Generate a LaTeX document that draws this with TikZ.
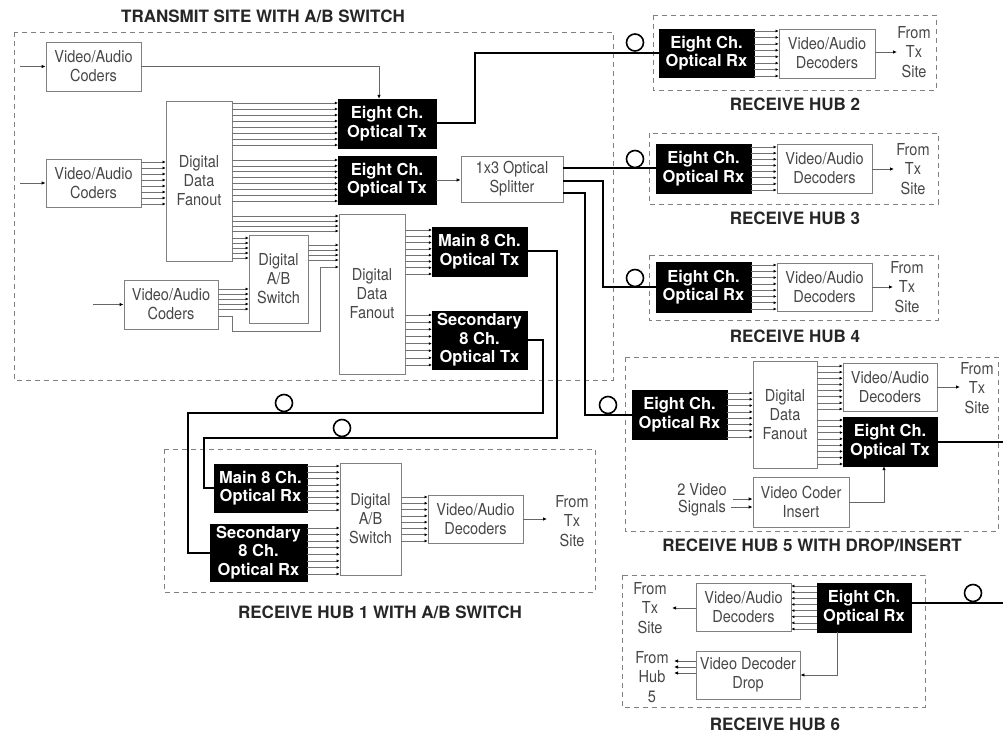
\documentclass[tikz,border=0pt]{standalone}
\usepackage{fontspec}
\setmainfont{TeX Gyre Heros}[FakeStretch=0.88]
\newfontfamily\boldf{TeX Gyre Heros}[FakeStretch=1.0]
\usetikzlibrary{arrows.meta,calc}
\definecolor{txtgray}{gray}{0.28}
\newcommand\blk[7]{\node[#1, minimum width={(#5)-(#3)}, minimum height={(#6)-(#4)}] (#2) at ({((#3)+(#5))/2},{((#4)+(#6))/2}) {#7};}
\newcommand\bundle[5]{\foreach \k in {0,...,#3}{\pgfmathsetmacro\yy{#4+(#5-#4)*\k/#3}\draw[bus] (#1 |- 0,\yy) -- (#2 |- 0,\yy);}}
\begin{document}
\begin{tikzpicture}[x=1pt,y=-1pt,
 gbox/.style={draw=black!50, line width=0.8pt, text=txtgray, align=center, inner sep=0pt, font=\fontsize{16.5}{19}\selectfont},
 bbox/.style={fill=black, draw=black, text=white, align=center, inner sep=0pt, font=\boldf\bfseries\fontsize{16.5}{18.5}\selectfont},
 site/.style={draw=black!50, dash pattern=on 5pt off 4pt, line width=0.8pt},
 ttl/.style={font=\boldf\bfseries\fontsize{17}{19}\selectfont, text=black!85, inner sep=0pt},
 lbl/.style={text=txtgray, align=center, inner sep=0pt, font=\fontsize{16.5}{19.5}\selectfont},
 bus/.style={draw=black!55, line width=0.6pt, -{Latex[length=3pt,width=3pt,black]}},
 sig/.style={draw=black!60, line width=0.8pt, -{Latex[length=4pt,width=3.5pt,black]}},
 fiber/.style={draw=black, line width=2pt},
 loopc/.style={draw=black, line width=1.6pt, circle, minimum size=17pt, inner sep=0pt}]
\useasboundingbox (0,0) rectangle (1003,735);

% ---------------- site frames and titles
\draw[site] (14,32) rectangle (613,380);
\node[ttl] (tTx) at (263,16) {TRANSMIT SITE WITH A/B SWITCH};
\draw[site] (653,15) rectangle (936,90);
\node[ttl] (tH2) at (795,104) {RECEIVE HUB 2};
\draw[site] (649,133) rectangle (938,204);
\node[ttl] (tH3) at (795,218) {RECEIVE HUB 3};
\draw[site] (649,255) rectangle (938,320);
\node[ttl] (tH4) at (795,336) {RECEIVE HUB 4};
\draw[site] (625,357) rectangle (998,531);
\node[ttl] (tH5) at (812,545) {RECEIVE HUB 5 WITH DROP/INSERT};
\draw[site] (164,449) rectangle (595,592);
\node[ttl] (tH1) at (380,612) {RECEIVE HUB 1 WITH A/B SWITCH};
\draw[site] (622,575) rectangle (925,707);
\node[ttl] (tH6) at (775,724) {RECEIVE HUB 6};

% ---------------- transmit site blocks
\blk{gbox}{cod1}{46}{42}{141}{91}{Video/Audio\\Coders}
\blk{gbox}{cod2}{46}{159}{141}{207}{Video/Audio\\Coders}
\blk{gbox}{cod3}{124}{280}{218}{329}{Video/Audio\\Coders}
\blk{gbox}{fan1}{166}{101}{232}{261}{Digital\\Data\\Fanout}
\blk{gbox}{sw1}{249}{235}{308}{323}{Digital\\A/B\\Switch}
\blk{gbox}{fan2}{339}{214}{405}{374}{Digital\\Data\\Fanout}
\blk{bbox}{tx1}{338}{99}{436}{148}{Eight Ch.\\Optical Tx}
\blk{bbox}{tx2}{338}{156}{436}{204}{Eight Ch.\\Optical Tx}
\blk{gbox}{spl}{461}{156}{563}{202}{1x3 Optical\\Splitter}
\blk{bbox}{mtx}{432}{227}{527}{276}{Main 8 Ch.\\Optical Tx}
\blk{bbox}{stx}{432}{311}{527}{369}{Secondary\\8 Ch.\\Optical Tx}

\coordinate (in1) at (20,66.5);
\coordinate (in2) at (20,183);
\coordinate (in3) at (93,304.5);
\draw[sig] (in1) -- (cod1.west);
\draw[sig] (in2) -- (cod2.west);
\draw[sig] (in3) -- (cod3.west);
\draw[sig] (cod1.east) -| ([xshift=-8pt]tx1.north);
\bundle{cod2.east}{fan1.west}{7}{162}{204}
\bundle{fan1.east}{tx1.west}{7}{103}{145}
\bundle{fan1.east}{tx2.west}{7}{160}{201}
\bundle{fan1.east}{fan2.west}{3}{216}{231}
\bundle{fan1.east}{sw1.west}{4}{238}{258}
\bundle{cod3.east}{sw1.west}{4}{289}{309}
\bundle{sw1.east}{fan2.west}{3}{245}{260}
\draw[bus] (cod3.east |- 0,316) -- (232,316) -- (232,331) -- (320,331) -- (320,267) -- (fan2.west |- 0,267);
\bundle{fan2.east}{mtx.west}{7}{230}{274}
\bundle{fan2.east}{stx.west}{7}{315}{365}
\draw[sig] (tx2.east) -- (spl.west |- tx2.east);

% ---------------- hub 2,3,4
\blk{bbox}{rx2}{659}{29}{754}{77}{Eight Ch.\\Optical Rx}
\blk{gbox}{dec2}{779}{29}{875}{78}{Video/Audio\\Decoders}
\node[lbl] (ft2) at (914,52) {From\\Tx\\Site};
\bundle{rx2.east}{dec2.west}{7}{31}{76}
\draw[sig] (dec2.east |- 0,52) -- (897,52);

\blk{bbox}{rx3}{656}{144}{751}{193}{Eight Ch.\\Optical Rx}
\blk{gbox}{dec3}{777}{144}{872}{193}{Video/Audio\\Decoders}
\node[lbl] (ft3) at (913,169) {From\\Tx\\Site};
\bundle{rx3.east}{dec3.west}{7}{147}{190}
\draw[sig] (dec3.east |- 0,169) -- (894,169);

\blk{bbox}{rx4}{656}{262}{751}{312}{Eight Ch.\\Optical Rx}
\blk{gbox}{dec4}{777}{263}{872}{311}{Video/Audio\\Decoders}
\node[lbl] (ft4) at (907,287) {From\\Tx\\Site};
\bundle{rx4.east}{dec4.west}{7}{265}{309}
\draw[sig] (dec4.east |- 0,287) -- (893,287);

% ---------------- hub 5
\blk{bbox}{rx5}{632}{390}{727}{439}{Eight Ch.\\Optical Rx}
\blk{gbox}{fan5}{753}{361}{817}{468}{Digital\\Data\\Fanout}
\blk{gbox}{dec5}{843}{363}{937}{411}{Video/Audio\\Decoders}
\blk{bbox}{tx5}{843}{417}{937}{466}{Eight Ch.\\Optical Tx}
\blk{gbox}{ins}{753}{477}{849}{527}{Video Coder\\Insert}
\node[lbl, font=\fontsize{16.5}{17}\selectfont] (vs) at (702,500) {2 Video\\Signals};
\node[lbl] (ft5) at (977,388) {From\\Tx\\Site};
\bundle{rx5.east}{fan5.west}{7}{393}{437}
\bundle{fan5.east}{dec5.west}{7}{366}{409}
\bundle{fan5.east}{tx5.west}{7}{420}{464}
\draw[sig] (dec5.east |- 0,387) -- (960,387);
\draw[sig] (733,499) -- (ins.west |- 0,499);
\draw[sig] (731,507) -- (ins.west |- 0,507);
\draw[sig] (ins.east) -| ([xshift=-6pt]tx5.south);

% ---------------- hub 6
\blk{bbox}{rx6}{817}{583}{911}{632}{Eight Ch.\\Optical Rx}
\blk{gbox}{dec6}{696}{583}{791}{631}{Video/Audio\\Decoders}
\blk{gbox}{drop}{696}{651}{800}{699}{Video Decoder\\Drop}
\node[lbl] (ft6) at (650,608) {From\\Tx\\Site};
\node[lbl] (fh5) at (652,677) {From\\Hub\\5};
\bundle{rx6.west}{dec6.east}{7}{586}{629}
\draw[sig] (dec6.west |- 0,608) -- (672,608);
\draw[sig] ([xshift=-27pt]rx6.south) |- (drop.east);
\foreach \yy in {661,667,673} {\draw[sig] (drop.west |- 0,\yy) -- (674,\yy);}

% ---------------- hub 1
\blk{bbox}{mrx}{214}{464}{307}{512}{Main 8 Ch.\\Optical Rx}
\blk{bbox}{srx}{210}{524}{307}{581}{Secondary\\8 Ch.\\Optical Rx}
\blk{gbox}{ab1}{340}{463}{401}{575}{Digital\\A/B\\Switch}
\blk{gbox}{dec1}{428}{495}{523}{543}{Video/Audio\\Decoders}
\node[lbl] (ft1) at (572,521) {From\\Tx\\Site};
\bundle{mrx.east}{ab1.west}{7}{466}{510}
\bundle{srx.east}{ab1.west}{7}{528}{574}
\bundle{ab1.east}{dec1.west}{7}{497}{541}
\draw[sig] (dec1.east |- 0,519) -- (547,519);

% ---------------- fibres
\draw[fiber] (tx1.east) -- (475,123.5) |- (rx2.west);
\draw[fiber] (spl.east |- rx3.west) -- (rx3.west);
\draw[fiber] (spl.east |- 0,181) -- (603,181) |- (rx4.west);
\draw[fiber] (spl.east |- 0,193) -- (585,193) |- (rx5.west);
\draw[fiber] (mtx.east) -- (557,251.5) |- (204,438) |- (mrx.west);
\draw[fiber] (stx.east) -- (543,340) |- (188,413) |- (srx.west);
\coordinate (e5) at (1003,441.5);
\coordinate (e6) at (1003,603);
\draw[fiber] (tx5.east) -- (e5);
\draw[fiber] (rx6.east |- e6) -- (e6);

\node[loopc] (c2) at (635,42.5) {};
\node[loopc] (c3) at (635,159) {};
\node[loopc] (c4) at (635,278) {};
\node[loopc] (c5) at (608,405) {};
\node[loopc] (c1a) at (284,403) {};
\node[loopc] (c1b) at (342,428) {};
\node[loopc] (c6) at (973,593) {};
\end{tikzpicture}
\end{document}
